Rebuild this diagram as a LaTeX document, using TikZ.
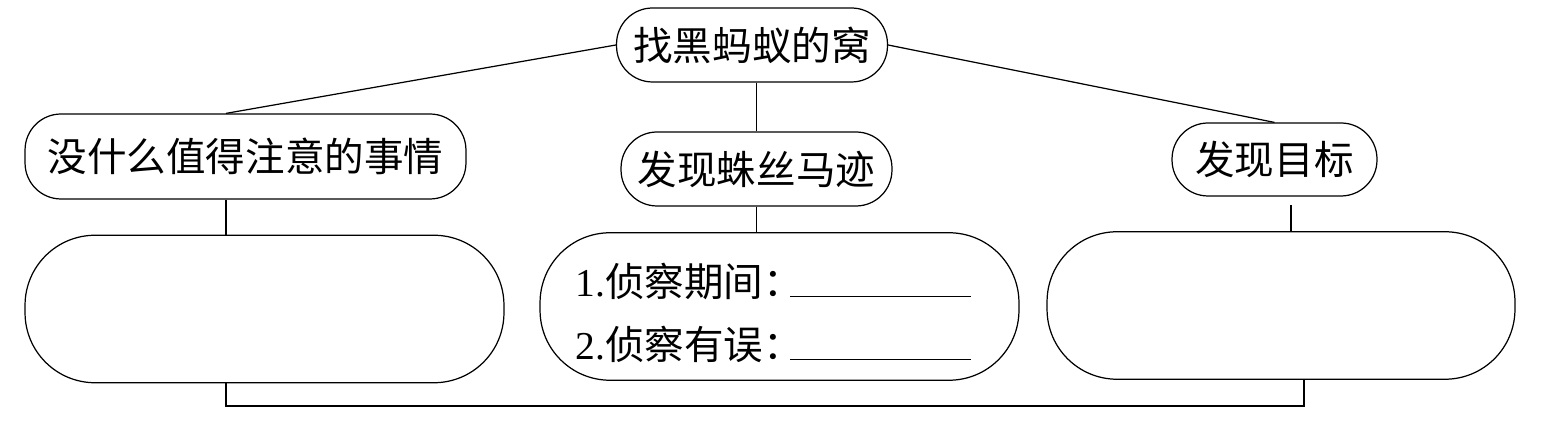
\documentclass[tikz,border=0pt]{standalone}
\usepackage{fontspec}
\setmainfont{Liberation Serif}
\newfontfamily\cjk{Noto Sans CJK SC}
\usetikzlibrary{positioning}

\begin{document}
\begin{tikzpicture}[
    x=0.02cm, y=-0.02cm, line width=0.7pt,
    topic/.style = {rectangle, draw, rounded corners=0.72cm,
      inner sep=0pt, align=center,
      font=\fontsize{22.5}{26}\selectfont\cjk},
    blank/.style = {rectangle, draw, rounded corners=1.4cm,
      inner sep=0pt, minimum width=9.5cm, minimum height=2.95cm},
    item/.style = {inner sep=0pt, anchor=base west,
      font=\fontsize{22.5}{26}\selectfont},
  ]
\useasboundingbox (0,0) rectangle (1565,421);
\node[topic, minimum width=5.42cm, minimum height=1.48cm] (root) at (752,45) {找黑蚂蚁的窝};
\node[topic, minimum width=8.82cm, minimum height=1.7cm] (none) at (245.5,156.5) {没什么值得注意的事情};
\node[topic, minimum width=5.42cm, minimum height=1.48cm] (trace) at (756.5,169) {发现蛛丝马迹};
\node[topic, minimum width=4.1cm, minimum height=1.46cm] (goal) at (1274.5,159.5) {发现目标};

\node[blank, minimum width=9.58cm] (boxA) at (264.5,309) {};
\node[blank, minimum width=9.58cm] (boxB) at (779.5,306.5) {};
\node[blank, minimum width=9.36cm] (boxC) at (1281,305.5) {};

% the two questions in the middle box
\node[item] (ask1) at (575,297) {1.{\cjk 侦察期间：}\hspace{-0.26cm}\rule{3.62cm}{0.7pt}};
\node[item] (ask2) at (575,360) {2.{\cjk 侦察有误：}\hspace{-0.26cm}\rule{3.62cm}{0.7pt}};

\coordinate (joinA) at (226,406);
\coordinate (joinC) at (1304,406);
\coordinate (joinG) at (1291,205);

\draw (root.west) -- ([xshift=-0.39cm]none.north);
\draw (root.east) -- (goal.north);
\draw (trace.north |- root.south) -- (trace.north);
\draw (none.south -| joinA) -- (boxA.north -| joinA);
\draw (trace.south) -- (boxB.north -| trace.south);
\draw (joinG) -- (joinG |- boxC.north);
\draw (boxA.south -| joinA) -- (joinA) -- (joinC) -- (boxC.south -| joinC);
\end{tikzpicture}
\end{document}
